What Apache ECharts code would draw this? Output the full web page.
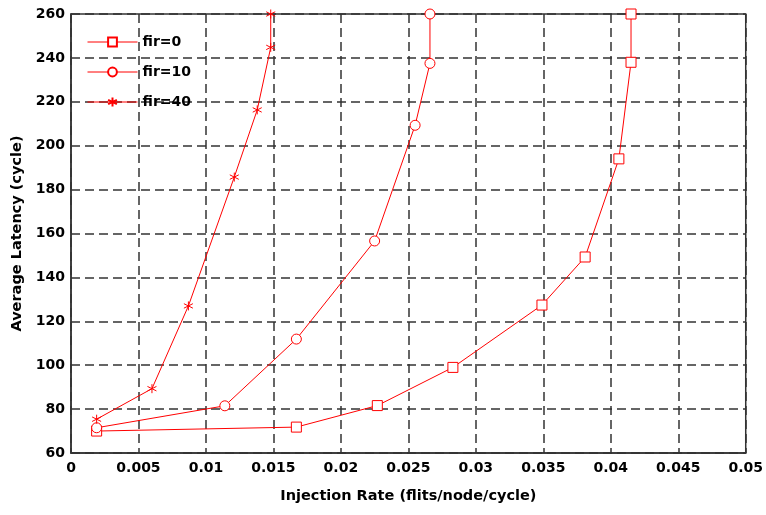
<!DOCTYPE html>
<html><head><meta charset="utf-8">
<script src="https://cdn.jsdelivr.net/npm/echarts@6/dist/echarts.min.js"></script>
<style>html,body{margin:0;padding:0;background:#fff}#c{width:766px;height:515px}</style>
</head><body><div id="c"></div>
<script>
const seriesNames = ['fir=0', 'fir=10', 'fir=40'];
const fir0X = [0.0019, 0.0167, 0.0227, 0.0283, 0.0349, 0.0381, 0.0406, 0.0415, 0.0415];
const fir0Y = [70, 71.8, 81.6, 99, 127.4, 149.3, 194, 238, 260];
const fir10X = [0.0019, 0.0114, 0.0167, 0.0225, 0.0255, 0.0266, 0.0266];
const fir10Y = [71.5, 81.5, 111.9, 156.6, 209.3, 237.5, 260];
const fir40X = [0.0019, 0.006, 0.0087, 0.0121, 0.0138, 0.0148, 0.0148];
const fir40Y = [75.4, 89.3, 127, 185.7, 216.3, 244.8, 260];
const xTickLabels = ['0','0.005','0.01','0.015','0.02','0.025','0.03','0.035','0.04','0.045','0.05'];
const yTickLabels = ['60','80','100','120','140','160','180','200','220','240','260'];

const zip = (xs, ys) => xs.map((x, i) => [x, ys[i]]);
const star = 'path://M5 0 L5 10 M0.7 2.5 L9.3 7.5 M9.3 2.5 L0.7 7.5';
const fontFam = 'DejaVu Sans, sans-serif';
function mk(name, data, symbol, size) {
  return {
    name, type: 'line', data, symbol, symbolSize: size, showSymbol: true,
    lineStyle: { color: '#ff0000', width: 1 },
    itemStyle: { color: '#fff', borderColor: '#ff0000', borderWidth: 1 },
    emphasis: { disabled: true }, animation: false, z: 5
  };
}
const chart = echarts.init(document.getElementById('c'));
chart.setOption({
  animation: false,
  grid: { left: 71, top: 14, right: 18, bottom: 62, show: true, borderColor: '#333', borderWidth: 1.5, backgroundColor: 'transparent' },
  legend: {
    orient: 'vertical', left: 87, top: 35, padding: 0, itemWidth: 50, itemHeight: 11, itemGap: 16,
    lineStyle: { width: 1 },
    textStyle: { fontFamily: fontFam, fontWeight: 'bold', fontSize: 14, color: '#000' },
    data: seriesNames
  },
  xAxis: {
    type: 'value', min: 0, max: 0.05, interval: 0.005,
    name: 'Injection Rate (flits/node/cycle)', nameLocation: 'middle', nameGap: 36,
    nameTextStyle: { fontFamily: fontFam, fontWeight: 'bold', fontSize: 14.5, color: '#000' },
    axisLine: { show: true, lineStyle: { color: '#333', width: 1.5 } },
    axisTick: { show: false },
    axisLabel: { fontFamily: fontFam, fontWeight: 'bold', fontSize: 14, color: '#000', margin: 8,
      formatter: (v) => xTickLabels[Math.round(v / 0.005)] },
    splitLine: { show: true, lineStyle: { color: '#333', width: 1.5, type: [9, 5] } }
  },
  yAxis: {
    type: 'value', min: 60, max: 260, interval: 20,
    name: 'Average Latency (cycle)', nameLocation: 'middle', nameGap: 45, nameRotate: 90,
    nameTextStyle: { fontFamily: fontFam, fontWeight: 'bold', fontSize: 14.5, color: '#000' },
    axisLine: { show: true, lineStyle: { color: '#333', width: 1.5 } },
    axisTick: { show: false },
    axisLabel: { fontFamily: fontFam, fontWeight: 'bold', fontSize: 14, color: '#000', margin: 6,
      formatter: (v) => yTickLabels[Math.round((v - 60) / 20)] },
    splitLine: { show: true, lineStyle: { color: '#333', width: 1.5, type: [9, 5] } }
  },
  series: [
    mk(seriesNames[0], zip(fir0X, fir0Y), 'rect', 10),
    mk(seriesNames[1], zip(fir10X, fir10Y), 'circle', 10),
    mk(seriesNames[2], zip(fir40X, fir40Y), star, 9)
  ]
});
</script></body></html>
